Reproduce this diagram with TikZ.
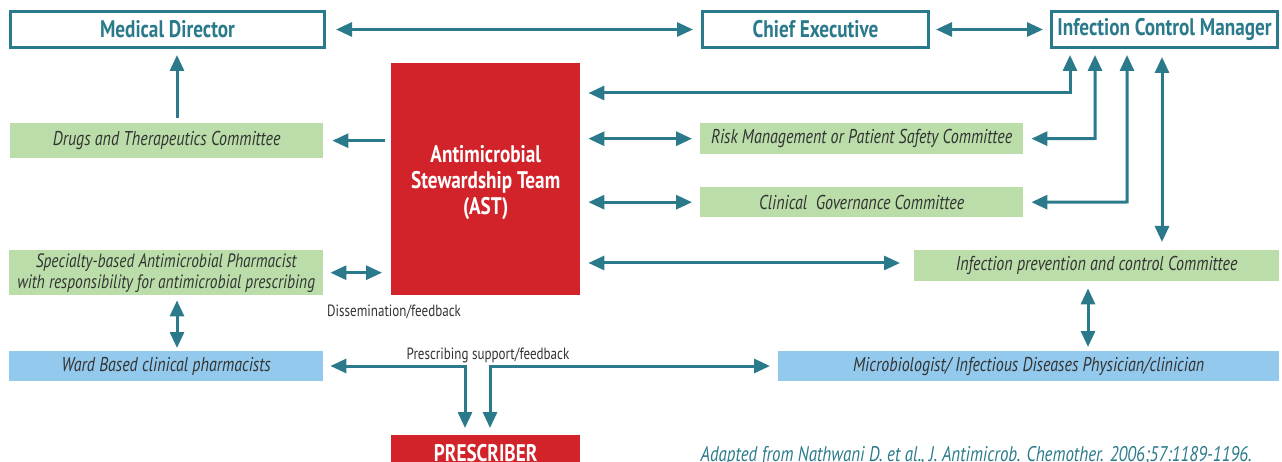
\documentclass[tikz,border=0pt]{standalone}
\usepackage{fontspec}
\setmainfont{PT Sans}[FakeStretch=0.8]
\usetikzlibrary{arrows.meta}
\definecolor{tl}{HTML}{2A7A8B}
\definecolor{rd}{HTML}{D2232A}
\definecolor{gr}{HTML}{BADDA9}
\definecolor{bl}{HTML}{92C9EC}
\definecolor{tx}{HTML}{333333}
\tikzset{
  outl/.style={draw=tl,line width=3pt,fill=white,anchor=north west,inner sep=0pt,text=tl,font=\bfseries\fontsize{24}{26}\selectfont},
  grn/.style={fill=gr,anchor=north west,inner sep=0pt,text=tx,font=\itshape\fontsize{20}{22}\selectfont,align=center},
  blu/.style={grn,fill=bl},
  red/.style={fill=rd,anchor=north west,inner sep=0pt,text=white,font=\bfseries\fontsize{24}{26}\selectfont,align=center},
  lbl/.style={text=tx,inner sep=0pt,font=\fontsize{16.3}{18}\selectfont},
  dbl/.style={draw=tl,line width=3pt,{Triangle[length=16pt,width=14pt]}-{Triangle[length=16pt,width=14pt]}},
  one/.style={draw=tl,line width=3pt,-{Triangle[length=16pt,width=14pt]}}
}
\begin{document}
\begin{tikzpicture}[x=1pt,y=-1pt]
\useasboundingbox (0,0) rectangle (1282,462);
% nodes
\node[outl,minimum width=314pt,minimum height=36pt] (md) at (9,10) {Medical Director};
\node[outl,minimum width=226pt,minimum height=36pt] (ce) at (701,10) {Chief Executive};
\node[outl,minimum width=226pt,minimum height=36pt] (icm) at (1050,10) {Infection Control Manager};
\node[red,minimum width=189pt,minimum height=232pt] (ast) at (391,63) {\raisebox{0pt}[\height][\dimexpr\depth-8pt\relax]{\begin{tabular}{@{}c@{}}Antimicrobial\\Stewardship Team\\(AST)\end{tabular}}};
\node[grn,minimum width=313pt,minimum height=35pt] (dtc) at (10,123) {Drugs and Therapeutics Committee};
\node[grn,minimum width=323pt,minimum height=31pt] (rm) at (700,123) {Risk Management or Patient Safety Committee};
\node[grn,minimum width=323pt,minimum height=30pt] (cg) at (700,187) {Clinical\ \ Governance Committee};
\node[grn,minimum width=365pt,minimum height=31pt] (ipc) at (914,250) {Infection prevention and control Committee};
\node[grn,minimum width=314pt,minimum height=45pt,font=\itshape\fontsize{19.3}{21}\selectfont] (sp) at (9,250) {Specialty-based Antimicrobial Pharmacist\\with responsibility for antimicrobial prescribing};
\node[blu,minimum width=314pt,minimum height=30pt] (wb) at (9,351) {Ward Based clinical pharmacists};
\node[blu,minimum width=501pt,minimum height=30pt] (mi) at (778,351) {Microbiologist/ Infectious Diseases Physician/clinician};
\node[red,minimum width=189pt,minimum height=35pt] (pr) at (391,435) {PRESCRIBER};
\node[lbl,anchor=west] (dis) at (327,312) {Dissemination/feedback};
\node[lbl] (psf) at (488,355) {Prescribing support/feedback};
\node[text=tl,inner sep=0pt,anchor=base east,font=\itshape\fontsize{21.2}{23}\selectfont] (cit) at (1252,461) {Adapted from Nathwani D. et al., J. Antimicrob. Chemother. 2006;57:1189-1196.};
% bend coordinates
\coordinate (k1) at (1070,93);
\coordinate (k2) at (1095,138.5);
\coordinate (k3) at (1127,202);
\coordinate (k4) at (1162,150);
\coordinate (k5) at (1088,320);
\coordinate (k6) at (465,366);
\coordinate (k7) at (490,366);
\coordinate (k8) at (177,200);
% connectors
\draw[dbl] ([xshift=10pt]md.east) -- ([xshift=-8pt]ce.west);
\draw[dbl] ([xshift=6pt]ce.east) -- ([xshift=-7pt]icm.west);
\draw[one] ([yshift=5pt]dtc.north -| k8) -- ([yshift=-6pt]md.south -| k8);
\draw[one] ([xshift=-6pt]ast.west |- dtc.east) -- ([xshift=9pt]dtc.east);
\draw[dbl] ([xshift=8pt]ast.east |- rm.west) -- ([xshift=-8pt]rm.west);
\draw[dbl] ([xshift=8pt]ast.east |- cg.west) -- ([xshift=-8pt]cg.west);
\draw[dbl] ([xshift=8pt]ast.east |- 0,263) -- ([xshift=-14pt]ipc.west |- 0,263);
\draw[dbl] ([yshift=-6pt]icm.south -| k1) -- (k1) -- ([xshift=8pt]ast.east |- k1);
\draw[dbl] ([yshift=-6pt]icm.south -| k2) -- (k2) -- ([xshift=8pt]rm.east);
\draw[dbl] ([yshift=-6pt]icm.south -| k3) -- (k3) -- ([xshift=8pt]cg.east);
\draw[dbl] ([yshift=-8pt]icm.south -| k4) -- ([yshift=8pt]ipc.north -| k4);
\draw[dbl] ([xshift=7pt]sp.east) -- ([xshift=-9pt]ast.west |- sp.east);
\draw[dbl] ([yshift=-5pt]sp.south -| k8) -- ([yshift=3pt]wb.north -| k8);
\draw[dbl] ([yshift=-7pt]ipc.south -| k5) -- ([yshift=4pt]mi.north -| k5);
\draw[dbl] ([xshift=7pt]wb.east |- k6) -- (k6) -- ([yshift=7pt]pr.north -| k6);
\draw[dbl] ([yshift=7pt]pr.north -| k7) -- (k7) -- ([xshift=-8pt]mi.west |- k7);
\end{tikzpicture}
\end{document}
